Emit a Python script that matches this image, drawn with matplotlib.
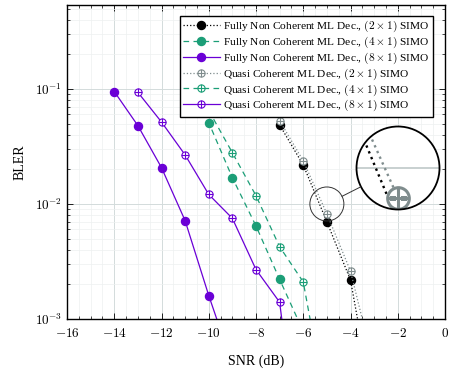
import numpy as np
import matplotlib.pyplot as plt
from matplotlib.path import Path
from matplotlib.patches import Circle, Ellipse
from matplotlib.lines import Line2D
from matplotlib.ticker import MultipleLocator, FuncFormatter, LogLocator

plt.rcParams['font.family'] = 'Liberation Serif'
plt.rcParams['mathtext.fontset'] = 'cm'

# data
snr2 = [-7, -6, -5, -4, -3]
fnc2 = [0.0487, 0.0218, 0.0070, 0.00218, 0.00016]
qc2 = [0.053, 0.0237, 0.0082, 0.00261, 0.00038]

snr4_f = [-11, -10, -9, -8, -7, -6]
fnc4 = [0.13, 0.051, 0.0169, 0.00644, 0.00221, 0.00078]
snr4_q = [-10, -9, -8, -7, -6, -5]
qc4 = [0.065, 0.0279, 0.0118, 0.00425, 0.0021, 0.00016]

snr8_f = [-14, -13, -12, -11, -10, -9]
fnc8 = [0.095, 0.048, 0.0207, 0.00716, 0.0016, 0.0004]
snr8_q = [-13, -12, -11, -10, -9, -8, -7, -6]
qc8 = [0.0935, 0.0516, 0.0267, 0.0121, 0.0075, 0.00269, 0.0014, 0.000035]

labels = ['Fully Non Coherent ML Dec., $(2\\times 1)$ SIMO',
          'Fully Non Coherent ML Dec., $(4\\times 1)$ SIMO',
          'Fully Non Coherent ML Dec., $(8\\times 1)$ SIMO',
          'Quasi Coherent ML Dec., $(2\\times 1)$ SIMO',
          'Quasi Coherent ML Dec., $(4\\times 1)$ SIMO',
          'Quasi Coherent ML Dec., $(8\\times 1)$ SIMO']

black = 'black'
gray = '#7f8c8d'
green = '#1b9e77'
purple = '#6a00d6'

# circle with a plus inside
oplus = Path.make_compound_path(
    Path.unit_circle(),
    Path([(-1, 0), (1, 0), (0, -1), (0, 1)],
         [Path.MOVETO, Path.LINETO, Path.MOVETO, Path.LINETO]))

W, H, dpi = 458, 369, 100
fig = plt.figure(figsize=(W / dpi, H / dpi), dpi=dpi)
ax = fig.add_axes([67 / W, 1 - 319 / H, 378 / W, 314 / H])

ms_f, ms_q = 5.8, 5.2
ax.plot(snr2, fnc2, ':', color=black, lw=0.9, marker='o', ms=ms_f, label=labels[0])
ax.plot(snr4_f, fnc4, color=green, lw=0.9, dashes=(4.5, 3.5), marker='o', ms=ms_f, label=labels[1])
ax.plot(snr8_f, fnc8, '-', color=purple, lw=0.9, marker='o', ms=ms_f, label=labels[2])
ax.plot(snr2, qc2, ':', color=gray, lw=0.9, marker=oplus, ms=ms_q, mfc='white', mew=0.8, label=labels[3])
ax.plot(snr4_q, qc4, color=green, lw=0.9, dashes=(4.5, 3.5), marker=oplus, ms=ms_q, mfc='white', mew=0.8, label=labels[4])
ax.plot(snr8_q, qc8, '-', color=purple, lw=0.9, marker=oplus, ms=ms_q, mfc='white', mew=0.8, label=labels[5])

ax.set_yscale('log')
ax.set_xlim(-16, 0)
ax.set_ylim(1e-3, 10 ** -0.27)

ax.xaxis.set_major_locator(MultipleLocator(2))
ax.xaxis.set_minor_locator(MultipleLocator(0.5))
ax.xaxis.set_major_formatter(FuncFormatter(lambda v, p: '$%d$' % round(v)))
ax.yaxis.set_major_locator(LogLocator(base=10))
ax.yaxis.set_minor_locator(LogLocator(base=10, subs=np.arange(2, 10)))
ax.yaxis.set_major_formatter(FuncFormatter(lambda v, p: '$10^{%d}$' % round(np.log10(v))))

ax.tick_params(which='both', direction='in', top=True, right=True, labelsize=9.5)
ax.tick_params(which='major', length=4, width=0.6)
ax.tick_params(which='minor', length=2.2, width=0.5)
ax.tick_params(axis='x', which='major', pad=6)
ax.grid(which='major', color='#d3dbdb', lw=0.7)
ax.grid(which='minor', color='#edf0f0', lw=0.5)
ax.set_axisbelow(True)
for s in ax.spines.values():
    s.set_linewidth(1.0)

ax.set_xlabel('SNR (dB)', fontsize=10, labelpad=10)
ax.set_ylabel('BLER', fontsize=10, labelpad=6)

leg = ax.legend(loc='upper right', bbox_to_anchor=(0.968, 0.966), borderaxespad=0,
                fontsize=8.2, handlelength=3.2, handletextpad=0.3, labelspacing=0.04,
                borderpad=0.3, fancybox=False, framealpha=1, edgecolor='black')
leg.get_frame().set_linewidth(1.0)

# spy glass: small circle on the curve, magnified in a big circle
mag = 3.0
r_small, r_big = 17, 41.5
spy = ax.transData.transform((-5.0, 1e-2))
big = np.array([398, H - 168])

inv = ax.transData.inverted()
(x0, y0) = inv.transform(spy - r_big / mag)
(x1, y1) = inv.transform(spy + r_big / mag)

axin = fig.add_axes([(big[0] - r_big) / W, (big[1] - r_big) / H, 2 * r_big / W, 2 * r_big / H])
axin.set_yscale('log')
axin.axis('off')
axin.patch.set_visible(False)
bg = Circle((0.5, 0.5), 0.5, transform=axin.transAxes, fc='white', ec='none', zorder=0)
axin.add_patch(bg)
clip = Circle((0.5, 0.5), 0.5, transform=axin.transAxes)
arts = []
arts += axin.plot([x0 - 1, x1 + 1], [1e-2, 1e-2], color='#c8d0d0', lw=1.4, zorder=1)
arts += axin.plot(snr2, fnc2, ':', color=black, lw=1.7, marker='o', ms=ms_f * mag, zorder=2)
arts += axin.plot(snr2, qc2, ':', color=gray, lw=1.7, marker=oplus, ms=ms_q * mag,
                  mfc='white', mew=2.2, zorder=3)
for a in arts:
    a.set_clip_path(clip)
axin.set_xlim(x0, x1)
axin.set_ylim(y0, y1)
axin.add_patch(Circle((0.5, 0.5), 0.5, transform=axin.transAxes, fill=False,
                      ec='black', lw=1.3, clip_on=False, zorder=5))

fig.add_artist(Ellipse((spy[0] / W, spy[1] / H), 2 * r_small / W, 2 * r_small / H,
                       transform=fig.transFigure, fill=False, ec='#333333', lw=0.7))
d = (big - spy) / np.linalg.norm(big - spy)
p0 = spy + d * r_small
p1 = big - d * r_big
fig.add_artist(Line2D([p0[0] / W, p1[0] / W], [p0[1] / H, p1[1] / H],
                      transform=fig.transFigure, color='#333333', lw=0.7))

fig.savefig('out.png', dpi=dpi)
